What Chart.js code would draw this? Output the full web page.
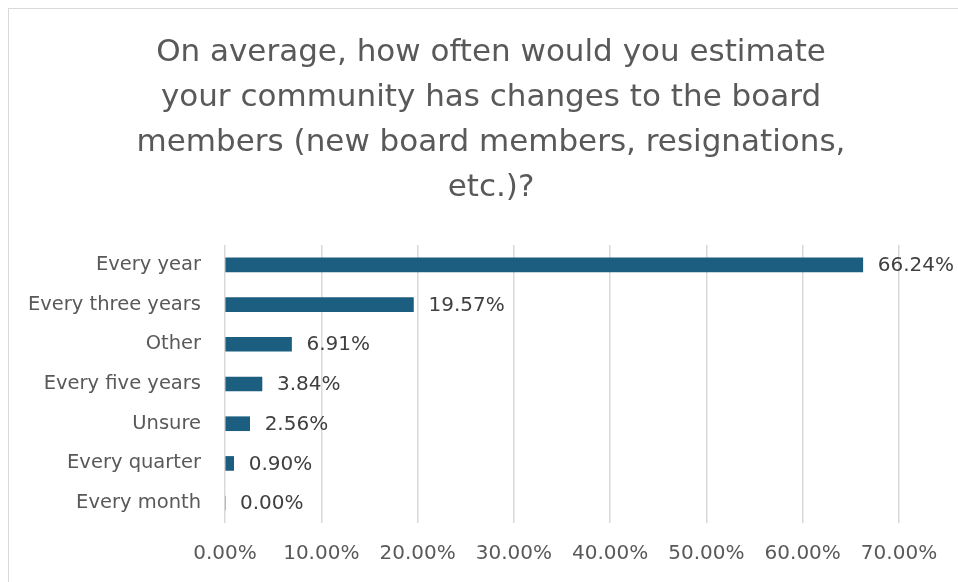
<!DOCTYPE html>
<html>
<head>
<meta charset="utf-8">
<script src="https://cdn.jsdelivr.net/npm/chart.js@4"></script>
<style>
  html, body { margin: 0; padding: 0; background: #fff; overflow: hidden; width: 958px; height: 582px; }
  .frame { position: absolute; left: 8px; top: 8px; border: 1px solid #d9d9d9; width: 964px; height: 600px; }
  .frame canvas { position: absolute; left: 0; top: 0; }
</style>
</head>
<body>
<div class="frame">
  <canvas id="chart" width="964" height="600"></canvas>
</div>
<script>
const titleLines = [
  'On average, how often would you estimate',
  'your community has changes to the board',
  'members (new board members, resignations,',
  'etc.)?'
];
const categories = ['Every year', 'Every three years', 'Other', 'Every five years', 'Unsure', 'Every quarter', 'Every month'];
const shares = [66.24, 19.57, 6.91, 3.84, 2.56, 0.90, 0.00];
const axisMax = 70;
const axisStep = 10;

const FONT = "'DejaVu Sans', sans-serif";
const pct = v => v.toFixed(2) + '%';

// title centred on the whole frame, not just the plot
const frameTitle = {
  id: 'frameTitle',
  afterDraw(chart) {
    const ctx = chart.ctx;
    ctx.save();
    ctx.font = '31px ' + FONT;
    ctx.fillStyle = '#595959';
    ctx.textAlign = 'center';
    ctx.textBaseline = 'middle';
    titleLines.forEach((line, i) => {
      ctx.fillText(line, chart.width / 2, 44 + i * 45);
    });
    ctx.restore();
  }
};

// value text just past the end of each bar
const barValues = {
  id: 'barValues',
  afterDatasetsDraw(chart) {
    const ctx = chart.ctx;
    const meta = chart.getDatasetMeta(0);
    ctx.save();
    ctx.font = '20px ' + FONT;
    ctx.fillStyle = '#404040';
    ctx.textAlign = 'left';
    ctx.textBaseline = 'middle';
    meta.data.forEach((bar, i) => {
      ctx.fillText(pct(shares[i]), bar.x + 15, bar.y + 1);
    });
    ctx.restore();
  }
};

new Chart(document.getElementById('chart'), {
  type: 'bar',
  data: {
    labels: categories,
    datasets: [{
      data: shares,
      backgroundColor: '#1B5E80',
      borderWidth: 0,
      barThickness: 14
    }]
  },
  plugins: [barValues, frameTitle],
  options: {
    indexAxis: 'y',
    responsive: false,
    animation: false,
    layout: { padding: { left: 0, right: 74, top: 236, bottom: 0 } },
    plugins: {
      legend: { display: false },
      tooltip: { enabled: false },
      title: { display: false }
    },
    scales: {
      x: {
        min: 0,
        max: axisMax,
        afterFit(scale) { scale.height = 86; },
        grid: { color: '#d9d9d9', lineWidth: 1.5, drawTicks: false },
        border: { display: false },
        ticks: {
          stepSize: axisStep,
          padding: 19,
          color: '#595959',
          font: { family: FONT, size: 20 },
          callback: v => pct(v)
        }
      },
      y: {
        afterFit(scale) { scale.width = 216; },
        grid: { display: false },
        border: { display: false },
        ticks: {
          padding: 16,
          color: '#595959',
          font: { family: FONT, size: 19.5 }
        }
      }
    }
  }
});
</script>
</body>
</html>
